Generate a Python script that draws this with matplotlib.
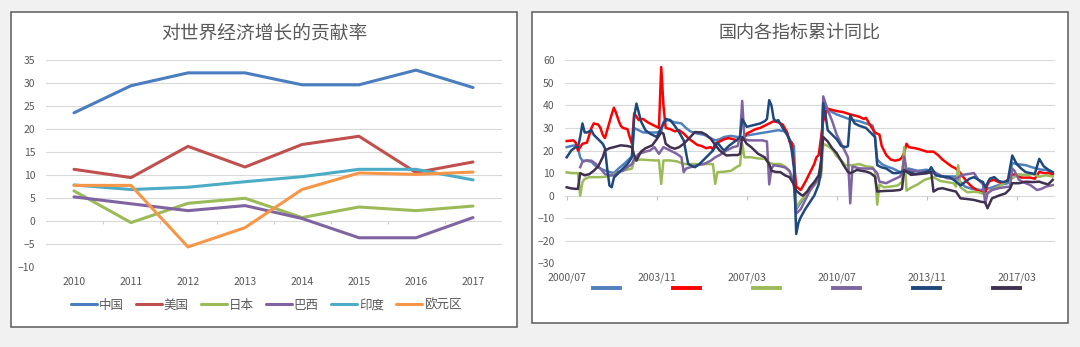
import numpy as np
import matplotlib
matplotlib.use('Agg')
import matplotlib.pyplot as plt
from matplotlib.patches import Rectangle
from matplotlib.lines import Line2D

plt.rcParams['font.family'] = ['Noto Sans CJK SC', 'DejaVu Sans']

W, H = 1080, 347
GRAY = '#595959'
GRID = '#d9d9d9'

# ---- left chart: 对世界经济增长的贡献率 ----
years = ['2010', '2011', '2012', '2013', '2014', '2015', '2016', '2017']
china = [23.5, 29.4, 32.2, 32.2, 29.6, 29.6, 32.8, 29.0]
usa = [11.2, 9.4, 16.2, 11.7, 16.6, 18.4, 10.5, 12.8]
japan = [6.5, -0.4, 3.8, 4.9, 0.7, 3.0, 2.2, 3.2]
brazil = [5.2, 3.7, 2.2, 3.3, 0.5, -3.7, -3.7, 0.7]
india = [7.8, 6.8, 7.3, 8.5, 9.6, 11.2, 11.2, 8.9]
euro = [7.7, 7.7, -5.7, -1.5, 6.8, 10.4, 10.1, 10.6]
left_names = ['中国', '美国', '日本', '巴西', '印度', '欧元区']
left_colors = ['#4a7dbf', '#c0504d', '#9bbb59', '#8064a2', '#4bacc6', '#f79646']

# ---- right chart: 国内各指标累计同比 (months since 2000/07) ----
s1_t = [0, 2, 4, 5, 6, 7, 9, 11, 13, 16, 19, 21, 23, 26, 28, 29, 30, 32, 34, 37, 40, 42, 43, 45, 48,
        51, 53, 55, 58, 61, 64, 66, 68, 70, 73, 76, 78, 79, 82, 85, 88, 91, 94, 97, 99, 101, 102, 104,
        106, 108, 110, 112, 113, 114, 116, 118, 120, 124, 127, 130, 133, 136, 137, 138, 140, 142, 145,
        148, 150, 152, 156, 160, 163, 166, 170, 173, 175, 177, 180, 184, 188, 192, 196, 198, 200, 204,
        207, 209, 211, 213, 216]
s1_v = [21.5, 22, 22.3, 21, 17, 15.5, 15.5, 15, 13, 11.5, 10.5, 10, 12, 14.5, 16.5, 17.5, 30, 29, 28,
        28, 28, 28.5, 32.5, 33.5, 32.5, 32, 30, 28.5, 27.5, 27, 25.5, 24.5, 25, 26, 26.5, 26, 25.5,
        26.5, 27, 27.5, 28, 28.5, 29, 28.5, 25, 22, -6, -3, 0, 3, 5, 8, 12, 40, 38.5, 37, 36, 34.5,
        33.5, 33, 32, 31, 26, 16, 14, 13, 12, 10.5, 10, 12, 11, 11.5, 10, 8.5, 8.5, 8.5, 6, 4, 3, 2.5,
        3.3, 4.7, 5.5, 14.5, 14, 13.5, 12.5, 12, 11.5, 11.5, 10]

s2_t = [0, 3, 4, 5, 7, 9, 11, 12, 14, 15, 16, 17, 18, 20, 21, 22, 23, 24, 25, 27, 28, 29, 30, 31, 32,
        34, 36, 38, 40, 41, 42, 43, 44, 46, 48, 50, 52, 54, 56, 58, 60, 62, 64, 65, 66, 68, 70, 72, 74,
        76, 78, 79, 80, 82, 84, 86, 88, 90, 92, 94, 96, 98, 99, 100, 101, 102, 104, 106, 108, 110, 111,
        112, 114, 115, 116, 118, 120, 123, 126, 128, 130, 132, 133, 135, 137, 139, 140, 142, 144, 146,
        148, 149, 150, 151, 152, 155, 157, 160, 163, 165, 167, 169, 171, 173, 175, 176, 178, 180, 183,
        186, 187, 188, 190, 192, 194, 196, 198, 200, 202, 204, 206, 208, 210, 212, 214, 216]
s2_v = [24.2, 24.5, 23.5, 20, 23, 23.5, 30, 32, 31.5, 30, 27, 25.5, 29, 36, 39, 36.5, 33.5, 31, 30,
        29.5, 26, 23, 36.5, 35, 33.5, 34, 32.5, 31.5, 30.5, 30, 57, 40, 30, 29.5, 28.5, 29, 27.5, 25.5,
        24, 22.5, 22, 21, 21.5, 20.5, 23, 24, 25, 25.5, 25, 24.5, 25, 26, 27.5, 28.5, 29.5, 30, 31, 32,
        33, 32.5, 31.5, 28, 24, 23.5, 14, 4, 2.5, 6, 10, 14, 17, 18, 33, 36, 38.5, 38, 37.5, 37, 36,
        35.5, 35, 34, 34.5, 31, 28, 27, 22, 18, 16, 15.5, 16, 17, 19, 23, 21.5, 21, 20.5, 19.5, 19.5,
        18, 16, 14.5, 13, 12, 10, 8.5, 6, 4, 2, 1, 5, 6.5, 7, 6, 5.5, 7, 9.5, 9, 8, 8, 8, 7.5, 10.5,
        10, 10, 9.5]

s3_t = [0, 2, 4, 5, 6, 7, 8, 10, 12, 15, 18, 20, 22, 24, 27, 29, 30, 33, 36, 39, 41, 42, 43, 46, 49,
        52, 55, 58, 61, 64, 65, 66, 67, 70, 73, 76, 77, 78, 79, 82, 85, 88, 90, 92, 95, 97, 99, 101,
        102, 104, 106, 108, 110, 113, 114, 116, 118, 120, 122, 124, 127, 130, 133, 136, 137, 138, 139,
        141, 144, 147, 149, 150, 151, 153, 156, 159, 163, 166, 169, 172, 173, 174, 175, 178, 181, 183,
        186, 189, 192, 195, 198, 201, 204, 207, 210, 213, 216]
s3_v = [10.4, 10, 10, 10, 0, 6, 7.4, 8.2, 8.2, 8.2, 8.5, 9, 10, 11, 11.5, 12, 15.6, 16, 15.8, 15.6,
        15.6, 5.2, 15.6, 15.6, 15.2, 14, 14, 14, 14, 14, 14, 5.2, 10.4, 10.6, 11, 13, 13.4, 23, 17, 17,
        16.5, 16.3, 14.5, 14, 14, 13, 11, 6.7, -5.2, -2.2, 0, 2.2, 4.5, 8.2, 23, 22, 20.5, 17.5, 15.6,
        13.4, 13.5, 14, 13, 12.6, 11, -4, 5, 3.7, 4, 4.5, 6, 21.5, 2.2, 3.5, 5, 7, 8.2, 6.5, 6, 5.5, 4,
        13.5, 3.7, 1.5, 1.7, 1.5, 0.5, 2.5, 4, 6, 7.7, 9.5, 9, 9.6, 8.4, 9, 8.5]

s4_t = [6, 7, 9, 11, 13, 15, 17, 19, 21, 23, 25, 27, 29, 30, 32, 35, 37, 39, 41, 43, 45, 47, 49, 51,
        52, 53, 55, 58, 61, 64, 66, 68, 71, 74, 76, 77, 78, 79, 81, 84, 87, 89, 90, 91, 92, 95, 97, 99,
        100, 101, 102, 104, 106, 108, 110, 112, 113, 114, 116, 118, 120, 122, 124, 125, 126, 127, 130,
        133, 136, 138, 139, 142, 145, 148, 149, 150, 151, 154, 157, 160, 163, 166, 169, 173, 176, 178,
        181, 183, 185, 186, 187, 189, 192, 195, 197, 198, 199, 201, 204, 206, 209, 211, 213, 216]
s4_v = [12.6, 15, 15.6, 15.5, 14, 12, 9.6, 9, 9, 10.5, 11, 12.6, 14, 16.3, 18.5, 19.5, 20, 21.5, 18.5,
        21.5, 20.5, 19.5, 18.5, 17, 10.4, 12, 12.6, 13.5, 14, 15.5, 17, 18, 20, 21.5, 22, 26, 42, 25,
        24.5, 24.5, 24.5, 24, 5, 12, 13.5, 13, 12.5, 11, 8, 4, -8, -6, -2, 2, 5, 8, 12, 44, 38, 33, 27,
        23, 19, 17, -3.4, 12.9, 12.1, 12, 12, 10, 6.2, 5.5, 7, 8.4, 10, 17.3, 11.4, 11, 10.7, 10.5,
        10.7, 9, 7.7, 7.5, 9.2, 9.5, 10, 7, 5, -3.4, 1, 2.5, 3.3, 3.8, 4, 12, 11, 7, 5.5, 4.7, 2.5, 3,
        4, 4.7]

s5_t = [0, 2, 4, 5, 6, 7, 8, 9, 11, 12, 14, 16, 17, 18, 19, 20, 21, 23, 25, 27, 29, 30, 31, 32, 33,
        35, 37, 40, 42, 44, 46, 48, 50, 52, 54, 56, 57, 59, 61, 63, 65, 67, 69, 70, 72, 74, 76, 77, 78,
        80, 82, 84, 86, 88, 89, 90, 91, 92, 93, 94, 96, 98, 99, 100, 101, 102, 103, 104, 106, 108, 110,
        112, 113, 114, 115, 116, 118, 120, 122, 124, 125, 126, 128, 130, 133, 135, 137, 138, 140, 142,
        145, 147, 150, 152, 155, 158, 161, 162, 164, 167, 170, 172, 175, 177, 179, 181, 183, 185, 186,
        188, 190, 192, 194, 196, 198, 200, 202, 204, 206, 208, 210, 212, 214, 216]
s5_v = [17, 20, 21.5, 21.5, 26, 32, 28, 28, 29, 27, 25, 23, 21, 12, 4.5, 3.7, 8, 10, 12, 14, 17, 35,
        40.8, 37, 33, 29, 27.5, 26, 30, 34, 33.5, 31, 28, 24.5, 14, 13, 12.6, 14, 16, 18, 20, 23.5, 21,
        20, 22, 23.5, 25, 26, 34, 30.5, 31, 31.5, 32, 33, 34, 42.3, 40, 34, 33, 33.5, 30, 27, 25, 20, 12,
        -17, -12, -9.6, -6, -3, 0, 5, 11, 41, 36, 29, 27, 25, 22, 21.5, 22, 35.5, 32, 31, 30, 28, 26,
        13.5, 12.5, 12, 10, 10, 11, 10.5, 9.6, 10, 11, 12.6, 9, 8.5, 8.2, 7, 4.5, 6, 7.5, 8.2, 7, 6,
        3.7, 7.5, 8.2, 6.5, 6, 6.5, 17.8, 14, 12, 10.4, 10, 9.6, 16.3, 13, 11.5, 10.4]

s6_t = [0, 2, 4, 5, 6, 8, 10, 12, 14, 16, 17, 19, 21, 24, 27, 29, 30, 31, 33, 35, 38, 40, 42, 43, 44,
        46, 48, 50, 52, 54, 57, 60, 62, 64, 66, 68, 70, 71, 74, 76, 77, 78, 80, 82, 85, 88, 90, 91, 93,
        95, 97, 99, 101, 102, 104, 105, 107, 108, 110, 112, 113, 114, 116, 118, 120, 123, 125, 126, 129,
        131, 133, 135, 137, 138, 140, 142, 145, 148, 149, 150, 153, 156, 160, 162, 163, 165, 167, 170,
        173, 175, 178, 181, 184, 186, 187, 189, 192, 195, 197, 198, 201, 204, 207, 210, 212, 214, 216]
s6_v = [3.7, 3.2, 3, 3, 10, 9, 9.5, 11, 13, 17, 20, 21, 21.5, 22.3, 22, 21.5, 17.8, 15.5, 19.5, 21,
        22.3, 25, 28, 27.5, 23, 21.5, 20.8, 21.5, 23, 25, 28.2, 28, 27, 25.2, 22.5, 20, 18.5, 17.8, 18,
        18, 18.5, 26, 23, 21.5, 18.6, 17, 14, 11, 10.5, 10.4, 9, 8.2, 5, 2.2, 0.5, 0, 2, 3.7, 6, 9, 15,
        26, 24, 21, 18.8, 13.6, 10.5, 9.9, 11.4, 11, 10.7, 10, 8.4, 1.8, 2, 2.1, 2.2, 2.5, 3, 11.4, 9.2,
        9.5, 9.9, 10.4, 1.8, 3, 3.3, 2.5, 1.8, -1.2, -1.5, -1.9, -2.7, -3, -5.6, -1.2, 0, 1, 3, 5.5,
        5.5, 6.2, 6, 6.2, 5.5, 5, 7]

right_colors = ['#4f81bd', '#ff0000', '#9bbb59', '#8064a2', '#1f497d', '#403151']
right_ticks = [0, 40, 80, 120, 160, 200]


def month_label(i):
    # month index counted from 2000/07
    return '%d/%02d' % (2000 + (6 + i) // 12, (6 + i) % 12 + 1)


def fx(px):
    return px / W


def fy(py):
    return 1 - py / H


fig = plt.figure(figsize=(W / 100, H / 100), dpi=100, facecolor='#f1f1f1')

# panel frames
for x0, y0, x1, y1 in [(11, 12, 517, 326.7), (531.7, 12.3, 1068.3, 323.3)]:
    fig.add_artist(Rectangle((fx(x0), fy(y1)), (x1 - x0) / W, (y1 - y0) / H,
                             transform=fig.transFigure, facecolor='white',
                             edgecolor='#5a5a5a', lw=1.1, zorder=0))

# left chart
axL = fig.add_axes([fx(45.5), fy(266.7), 456 / W, 206.7 / H])
axL.set_facecolor('none')
x = np.arange(len(years))
lines = []
for vals, c, name in zip([china, usa, japan, brazil, india, euro], left_colors, left_names):
    ln, = axL.plot(x, vals, color=c, lw=2.2, label=name, solid_capstyle='round')
    lines.append(ln)
axL.set_xlim(-0.5, 7.5)
axL.set_ylim(-10, 35)
axL.set_yticks(range(-10, 40, 5))
axL.set_xticks(x, years)
axL.vlines(x[:-1] + 0.5, -0.8, 0, color='#cfcfcf', lw=0.8)
axL.grid(axis='y', color=GRID, lw=0.8)
axL.set_axisbelow(True)
for s in axL.spines.values():
    s.set_visible(False)
axL.tick_params(axis='y', length=0, pad=7.5, labelsize=7.5, labelcolor=GRAY)
axL.tick_params(axis='x', length=0, pad=7.5, labelsize=7.5, labelcolor=GRAY)
fig.text(fx(264), fy(33.3), '对世界经济增长的贡献率', ha='center', va='center',
         fontsize=13.5, color=GRAY)
fig.legend(lines, left_names, loc='center', bbox_to_anchor=(fx(266), fy(305)), ncol=6,
           frameon=False, fontsize=9, handlelength=2.1, handletextpad=0.15,
           columnspacing=0.95, labelcolor=GRAY, borderpad=0, borderaxespad=0)

# right chart
axR = fig.add_axes([fx(565), fy(263.3), 490 / W, 203 / H])
axR.set_facecolor('none')
series = [(s1_t, s1_v), (s2_t, s2_v), (s3_t, s3_v), (s4_t, s4_v), (s5_t, s5_v), (s6_t, s6_v)]
handles = []
for (t, v), c in zip(series, right_colors):
    axR.plot(t, v, color=c, lw=1.8, solid_joinstyle='round')
    handles.append(Line2D([], [], color=c, lw=2.8))
axR.set_xlim(-0.75, 217)
axR.set_ylim(-30, 60)
axR.set_yticks(range(-30, 70, 10))
axR.set_xticks(right_ticks, [month_label(i) for i in right_ticks])
axR.vlines(right_ticks, -1.8, 0, color='#bfbfbf', lw=0.8)
axR.grid(axis='y', color=GRID, lw=0.8)
axR.set_axisbelow(True)
for s in axR.spines.values():
    s.set_visible(False)
axR.tick_params(axis='y', length=0, pad=7.5, labelsize=7.5, labelcolor=GRAY)
axR.tick_params(axis='x', length=0, pad=6.5, labelsize=7.5, labelcolor=GRAY)
fig.text(fx(800), fy(33.3), '国内各指标累计同比', ha='center', va='center',
         fontsize=13, color=GRAY)
fig.legend(handles, [''] * 6, loc='center', bbox_to_anchor=(fx(806), fy(289)), ncol=6,
           frameon=False, fontsize=9, handlelength=2.16, handletextpad=0,
           columnspacing=4.24, borderpad=0, borderaxespad=0)

fig.savefig('out.png', dpi=100, facecolor=fig.get_facecolor())
